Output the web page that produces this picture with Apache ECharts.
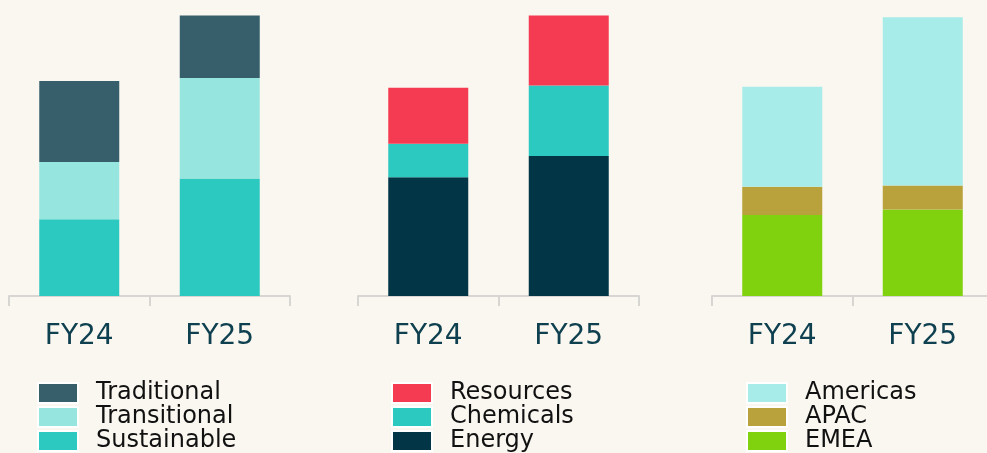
<!DOCTYPE html>
<html>
<head>
    <meta charset="UTF-8">
    <title>Portfolio mix FY24 vs FY25</title>
    <script src="https://cdn.jsdelivr.net/npm/echarts/dist/echarts.min.js"></script>
    <style>
        html, body { margin: 0; padding: 0; background-color: #faf7f0; overflow: hidden; }
        /* a bit wider than the window: the last axis runs past the right edge */
        #chart { width: 1000px; height: 453px; }
    </style>
</head>
<body>
    <div id="chart"></div>
    <script>
        // values (share of the tallest bar, tallest = ~100)
        const years = ['FY24', 'FY25'];

        const transitionNames = ['Sustainable', 'Transitional', 'Traditional'];
        const sustainable = [27.3, 41.8];
        const transitional = [20.4, 35.8];
        const traditional = [28.8, 22.2];

        const sectorNames = ['Energy', 'Chemicals', 'Resources'];
        const energy = [42.3, 49.8];
        const chemicals = [11.9, 25.1];
        const resources = [19.9, 24.9];

        const regionNames = ['EMEA', 'APAC', 'Americas'];
        const emea = [28.8, 30.8];
        const apac = [10.1, 8.5];
        const americas = [35.6, 59.9];

        const panels = [
            { names: transitionNames, values: [sustainable, transitional, traditional],
              colors: ['#2cc9c1', '#96e5de', '#365f6b'], left: 9, legendLeft: 37 },
            { names: sectorNames, values: [energy, chemicals, resources],
              colors: ['#023647', '#2cc9c1', '#f43b52'], left: 358, legendLeft: 391 },
            { names: regionNames, values: [emea, apac, americas],
              colors: ['#80d10e', '#b9a23b', '#a7ece8'], left: 712, legendLeft: 746 }
        ];

        const chart = echarts.init(document.getElementById('chart'));

        const grid = [], xAxis = [], yAxis = [], legend = [], series = [];
        panels.forEach((p, i) => {
            grid.push({ left: p.left, width: 281, top: 15, height: 281, containLabel: false });
            xAxis.push({
                type: 'category',
                gridIndex: i,
                data: years,
                axisLine: { lineStyle: { color: '#d8d6d2', width: 2 } },
                axisTick: { show: true, length: 10, lineStyle: { color: '#d8d6d2', width: 2 } },
                axisLabel: { fontSize: 28, color: '#0f4050', margin: 27, fontFamily: 'DejaVu Sans' }
            });
            yAxis.push({ type: 'value', gridIndex: i, min: 0, max: 100, show: false });
            legend.push({
                orient: 'vertical',
                left: p.legendLeft,
                top: 381,
                height: 120,
                padding: 0,
                itemWidth: 40,
                itemHeight: 20,
                itemGap: 0,
                icon: 'rect',
                data: p.names.slice().reverse(),
                itemStyle: { borderColor: '#ffffff', borderWidth: 2 },
                textStyle: { fontSize: 24, lineHeight: 23, color: '#111', fontFamily: 'DejaVu Sans', padding: [0, 0, 0, 13] }
            });
            p.names.forEach((name, j) => {
                series.push({
                    name: name,
                    type: 'bar',
                    stack: 'panel' + i,
                    xAxisIndex: i,
                    yAxisIndex: i,
                    barWidth: 80,
                    itemStyle: { color: p.colors[j] },
                    data: p.values[j]
                });
            });
        });

        chart.setOption({
            backgroundColor: '#faf7f0',
            animation: false,
            grid: grid,
            xAxis: xAxis,
            yAxis: yAxis,
            legend: legend,
            series: series
        });
    </script>
</body>
</html>
